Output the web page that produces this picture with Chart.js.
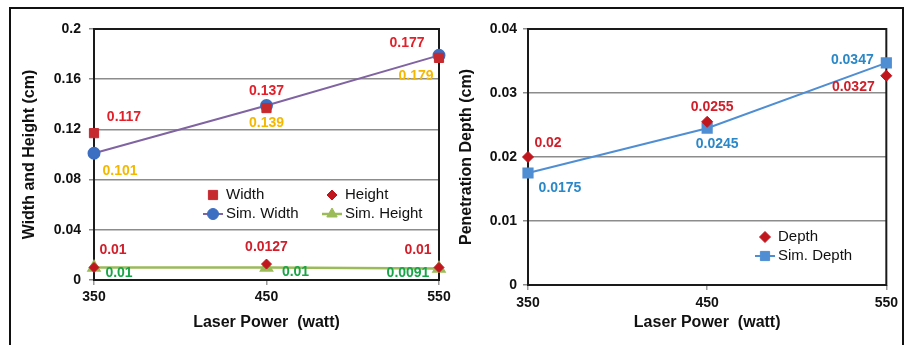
<!DOCTYPE html>
<html><head><meta charset="utf-8">
<script src="https://cdn.jsdelivr.net/npm/chart.js@4.4.0/dist/chart.umd.min.js"></script>
<style>
html,body{margin:0;padding:0;background:#fff;width:907px;height:345px;overflow:hidden;}
#frame{position:absolute;left:9px;top:7px;width:891px;height:340px;border:2px solid #111;border-bottom:none;}
#c1{position:absolute;left:10px;top:0;}
#c2{position:absolute;left:450px;top:0;}
</style></head><body>
<div id="frame"></div>
<canvas id="c1" width="450" height="345"></canvas>
<canvas id="c2" width="453" height="345"></canvas>
<script>
// ---- data ----
const laserPower = ['350', '450', '550'];
const widthVals = [0.117, 0.137, 0.177];
const simWidthVals = [0.101, 0.139, 0.179];
const heightVals = [0.01, 0.0127, 0.01];
const simHeightVals = [0.01, 0.01, 0.0091];
const depthVals = [0.02, 0.0255, 0.0327];
const simDepthVals = [0.0175, 0.0245, 0.0347];
const leftTicks = [0, 0.04, 0.08, 0.12, 0.16, 0.2];
const leftTickLabels = ['0', '0.04', '0.08', '0.12', '0.16', '0.2'];
const rightTicks = [0, 0.01, 0.02, 0.03, 0.04];
const rightTickLabels = ['0', '0.01', '0.02', '0.03', '0.04'];

const FAM = '"Liberation Sans", Arial, Helvetica, sans-serif';

// ---- plugins ----
const plotFrame = {
  id: 'plotFrame',
  beforeDatasetsDraw(chart) {
    const {ctx, chartArea: a} = chart;
    ctx.save();
    ctx.strokeStyle = '#1a1a1a';
    ctx.lineWidth = 2;
    ctx.strokeRect(a.left, a.top, a.right - a.left, a.bottom - a.top);
    ctx.restore();
  }
};
const pointLabels = {
  id: 'pointLabels',
  afterDatasetsDraw(chart) {
    const ctx = chart.ctx;
    chart.data.datasets.forEach((ds, i) => {
      if (!ds.labelOffsets) return;
      const meta = chart.getDatasetMeta(i);
      ctx.save();
      ctx.font = 'bold 14px ' + FAM;
      ctx.fillStyle = ds.labelColor;
      ctx.textAlign = 'center';
      ctx.textBaseline = 'middle';
      meta.data.forEach((pt, j) => {
        const [dx, dy] = ds.labelOffsets[j];
        ctx.fillText(String(ds.data[j]), pt.x + dx, pt.y + dy);
      });
      ctx.restore();
    });
  }
};
const inLegend = {
  id: 'inLegend',
  afterDatasetsDraw(chart, args, opts) {
    const ctx = chart.ctx;
    (opts.items || []).forEach(it => {
      const ds = chart.data.datasets[it.index];
      ctx.save();
      if (ds.showLine !== false) {
        ctx.strokeStyle = ds.borderColor;
        ctx.lineWidth = ds.borderWidth;
        ctx.beginPath();
        ctx.moveTo(it.x - 10, it.y);
        ctx.lineTo(it.x + 10, it.y);
        ctx.stroke();
      }
      ctx.fillStyle = ds.pointBackgroundColor;
      ctx.strokeStyle = ds.pointBorderColor;
      ctx.lineWidth = 1;
      Chart.helpers.drawPoint(ctx, {pointStyle: ds.pointStyle, radius: ds.pointRadius, rotation: 0, borderWidth: 1}, it.x, it.y);
      ctx.fillStyle = '#111';
      ctx.font = '15px ' + FAM;
      ctx.textAlign = 'left';
      ctx.textBaseline = 'middle';
      ctx.fillText(ds.label, it.x + 13, it.y);
      ctx.restore();
    });
  }
};

function yScale(ticksArr, labelsArr, title, w, titlePad, tickPad) {
  return {
    type: 'linear',
    min: ticksArr[0], max: ticksArr[ticksArr.length - 1],
    afterBuildTicks: s => { s.ticks = ticksArr.map(v => ({value: v})); },
    afterFit: s => { s.width = w; },
    ticks: {
      autoSkip: false,
      callback: (v, i) => labelsArr[i],
      color: '#111', padding: tickPad,
      font: {family: FAM, size: 14, weight: 'bold'}
    },
    grid: {color: '#8c8c8c', lineWidth: 1.5, tickLength: 5},
    border: {display: false},
    title: {display: true, text: title, color: '#111',
      font: {family: FAM, size: 16, weight: 'bold'}, padding: {top: titlePad, bottom: 0}}
  };
}
function xScale(h, tickPad) {
  return {
    type: 'category', offset: false,
    afterFit: s => { s.height = h; },
    grid: {drawOnChartArea: false, color: '#9a9a9a', lineWidth: 1.5, tickLength: 5},
    border: {display: false},
    ticks: {color: '#111', padding: tickPad, maxRotation: 0,
      font: {family: FAM, size: 14, weight: 'bold'}},
    title: {display: true, text: 'Laser Power  (watt)', color: '#111',
      font: {family: FAM, size: 16, weight: 'bold'}, padding: {top: 0, bottom: 13}}
  };
}

const common = {
  responsive: false, animation: false, devicePixelRatio: 1, events: [],
  elements: {line: {tension: 0}}
};

new Chart(document.getElementById('c1'), {
  type: 'line',
  data: {
    labels: laserPower,
    datasets: [
      {label: 'Width', data: widthVals, showLine: false, pointStyle: 'rect', pointRadius: 6.5,
       pointBackgroundColor: '#C62A2F', pointBorderColor: '#C62A2F', borderColor: '#C62A2F',
       labelColor: '#E3202A', labelOffsets: [[30, -16], [0, -17], [-32, -15]]},
      {label: 'Height', data: heightVals, showLine: false, pointStyle: 'rectRot', pointRadius: 5,
       pointBackgroundColor: '#C0171F', pointBorderColor: '#C0171F', borderColor: '#C0171F',
       labelColor: '#D01F2A', labelOffsets: [[19, -17], [0, -17], [-21, -17]]},
      {label: 'Sim. Width', data: simWidthVals, borderColor: '#8064A2', borderWidth: 2,
       pointStyle: 'circle', pointRadius: 5.5,
       pointBackgroundColor: '#3C6EC2', pointBorderColor: '#3C6EC2',
       labelColor: '#F5B800', labelOffsets: [[26, 18], [0, 18], [-23, 21]]},
      {label: 'Sim. Height', data: simHeightVals, borderColor: '#9BBB59', borderWidth: 2.5,
       pointStyle: 'triangle', pointRadius: 6,
       pointBackgroundColor: '#9BBB59', pointBorderColor: '#9BBB59',
       labelColor: '#18A548', labelOffsets: [[25, 6], [29, 5], [-31, 5]]}
    ]
  },
  options: Object.assign({}, common, {
    layout: {padding: {top: 29, right: 21, bottom: 0, left: 0}},
    scales: {
      x: xScale(65, 4),
      y: yScale(leftTicks, leftTickLabels, 'Width and Height (cm)', 84, 10, 8)
    },
    plugins: {
      legend: {display: false}, tooltip: {enabled: false},
      inLegend: {items: [
        {index: 0, x: 203, y: 195}, {index: 1, x: 322, y: 195},
        {index: 2, x: 203, y: 214}, {index: 3, x: 322, y: 214}
      ]}
    }
  }),
  plugins: [plotFrame, pointLabels, inLegend]
});

new Chart(document.getElementById('c2'), {
  type: 'line',
  data: {
    labels: laserPower,
    datasets: [
      {label: 'Depth', data: depthVals, showLine: false, pointStyle: 'rectRot', pointRadius: 5.5,
       pointBackgroundColor: '#C0171F', pointBorderColor: '#C0171F', borderColor: '#C0171F',
       labelColor: '#D01F2A', labelOffsets: [[20, -14], [5, -15], [-33, 11]]},
      {label: 'Sim. Depth', data: simDepthVals, borderColor: '#4F8ED3', borderWidth: 2,
       pointStyle: 'rect', pointRadius: 6.5,
       pointBackgroundColor: '#4F8ED3', pointBorderColor: '#4F8ED3',
       labelColor: '#2A88C8', labelOffsets: [[32, 15], [10, 16], [-34, -3]]}
    ]
  },
  options: Object.assign({}, common, {
    layout: {padding: {top: 29, right: 16, bottom: 0, left: 0}},
    scales: {
      x: xScale(60, 5),
      y: yScale(rightTicks, rightTickLabels, 'Penetration Depth (cm)', 78, 7, 6)
    },
    plugins: {
      legend: {display: false}, tooltip: {enabled: false},
      inLegend: {items: [
        {index: 0, x: 315, y: 237}, {index: 1, x: 315, y: 256}
      ]}
    }
  }),
  plugins: [plotFrame, pointLabels, inLegend]
});
</script>
</body></html>
